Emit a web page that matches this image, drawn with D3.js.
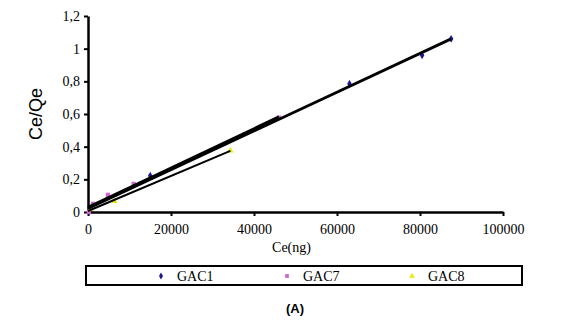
<!DOCTYPE html>
<html>
<head>
<meta charset="utf-8">
<script src="https://cdn.jsdelivr.net/npm/d3@7"></script>
<style>
body { margin: 0; background: #fff; }
svg { display: block; }
</style>
</head>
<body>
<div id="chart"></div>
<script>
// data
var seriesNames = ["GAC1", "GAC7", "GAC8"];
var gac1 = [[300, 0.003], [15000, 0.222], [63000, 0.785], [80500, 0.96], [87500, 1.06]];
var gac7 = [[200, 0.0], [1200, 0.05], [4800, 0.105], [11000, 0.172], [46000, 0.578]];
var gac8 = [[600, 0.018], [6300, 0.067], [34300, 0.375]];
var xTicks = [0, 20000, 40000, 60000, 80000, 100000];
var yTicks = [0, 0.2, 0.4, 0.6, 0.8, 1, 1.2];

var colors = ["#1a1a8c", "#cc66cc", "#e8e800"];
var allSeries = [gac1, gac7, gac8];
var lineWidths = [2.8, 2.8, 2];

var W = 571, H = 333;
var margin = {top: 16, left: 88, right: 68, bottom: 121};
var width = W - margin.left - margin.right,
    height = H - margin.top - margin.bottom;

var serif = "'Liberation Serif', 'Times New Roman', serif";
var sans = "'Liberation Sans', Arial, sans-serif";

var svg = d3.select("#chart")
  .append("svg")
  .attr("width", W)
  .attr("height", H);

svg.append("rect").attr("width", W).attr("height", H).attr("fill", "#fff");

var g = svg.append("g")
  .attr("transform", "translate(" + margin.left + "," + margin.top + ")");

var x = d3.scaleLinear().domain([0, 100000]).range([0, width]);
var y = d3.scaleLinear().domain([0, 1.2]).range([height, 0]);

var fmtY = function(d) { return d3.format("~g")(d).replace(".", ","); };

// axes
var xAxis = g.append("g")
  .attr("transform", "translate(0," + height + ")")
  .call(d3.axisBottom(x).tickValues(xTicks).tickFormat(d3.format("d")).tickSize(4).tickSizeOuter(0));
var yAxis = g.append("g")
  .call(d3.axisLeft(y).tickValues(yTicks).tickFormat(fmtY).tickSize(4).tickSizeOuter(0));

[xAxis, yAxis].forEach(function(a) {
  a.attr("font-family", serif).attr("font-size", 14);
  a.select(".domain").attr("stroke", "#000").attr("stroke-width", 2.5);
  a.selectAll(".tick line").attr("stroke", "#000").attr("stroke-width", 2);
  a.selectAll("text")
    .style("font-family", serif)
    .style("font-size", "14px")
    .attr("fill", "#000");
});
xAxis.selectAll("text").attr("dy", "1.05em");
yAxis.selectAll("text").attr("x", -8);

// markers
var symbols = [d3.symbolDiamond, d3.symbolSquare, d3.symbolTriangle];
allSeries.forEach(function(s, i) {
  g.selectAll(".pt" + i)
    .data(s)
    .enter()
    .append("path")
    .attr("class", "pt" + i)
    .attr("transform", function(d) { return "translate(" + x(d[0]) + "," + y(d[1]) + ")"; })
    .attr("d", d3.symbol().type(symbols[i]).size(18))
    .attr("fill", colors[i]);
});

// linear trend lines (least squares)
function fit(s) {
  var mx = d3.mean(s, d => d[0]), my = d3.mean(s, d => d[1]);
  var sxy = d3.sum(s, d => (d[0] - mx) * (d[1] - my));
  var sxx = d3.sum(s, d => (d[0] - mx) * (d[0] - mx));
  var b = sxy / sxx, a = my - b * mx;
  var x0 = 0, x1 = d3.max(s, d => d[0]);
  return [[x0, a + b * x0], [x1, a + b * x1]];
}
allSeries.forEach(function(s, i) {
  var ln = fit(s);
  g.append("line")
    .attr("x1", x(ln[0][0])).attr("y1", y(ln[0][1]))
    .attr("x2", x(ln[1][0])).attr("y2", y(ln[1][1]))
    .attr("stroke", "#000")
    .attr("stroke-width", lineWidths[i]);
});

// axis titles
svg.append("text")
  .attr("x", margin.left + width / 2 - 4)
  .attr("y", 252)
  .attr("text-anchor", "middle")
  .style("font-family", serif)
  .style("font-size", "14px")
  .text("Ce(ng)");

svg.append("text")
  .attr("transform", "translate(42,114) rotate(-90)")
  .attr("text-anchor", "middle")
  .style("font-family", sans)
  .style("font-size", "18px")
  .text("Ce/Qe");

// legend
var legend = svg.append("g");
legend.append("rect")
  .attr("x", 86).attr("y", 266)
  .attr("width", 436).attr("height", 19)
  .attr("fill", "#fff")
  .attr("stroke", "#000")
  .attr("stroke-width", 2);

var legX = [161, 287, 412];
seriesNames.forEach(function(name, i) {
  legend.append("path")
    .attr("transform", "translate(" + legX[i] + ",276)")
    .attr("d", d3.symbol().type(symbols[i]).size(14))
    .attr("fill", colors[i]);
  legend.append("text")
    .attr("x", legX[i] + 16)
    .attr("y", 281)
    .style("font-family", serif)
    .style("font-size", "14px")
    .text(name);
});

svg.append("text")
  .attr("x", 295)
  .attr("y", 313)
  .attr("text-anchor", "middle")
  .style("font-family", sans)
  .style("font-size", "13px")
  .style("font-weight", "bold")
  .text("(A)");
</script>
</body>
</html>
